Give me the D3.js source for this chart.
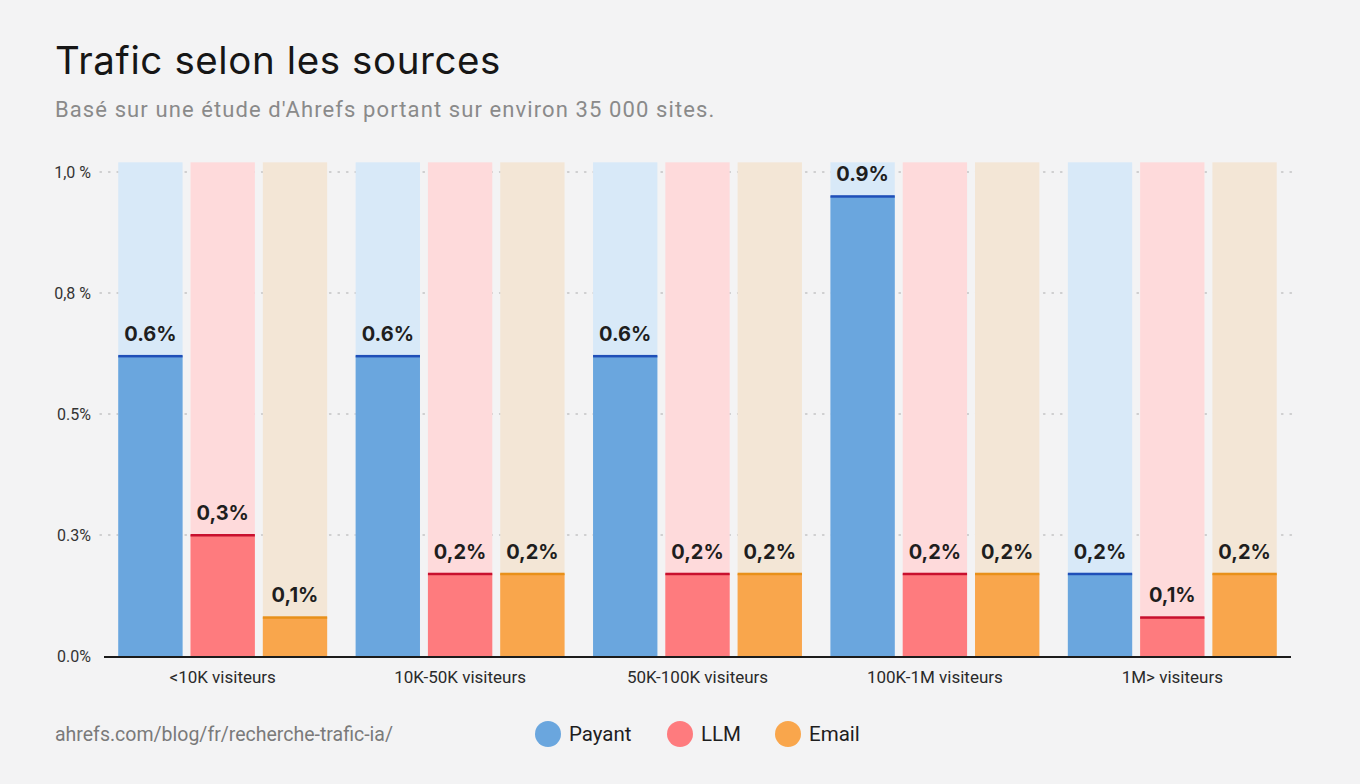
<!DOCTYPE html>
<html>
<head>
<meta charset="utf-8">
<script src="https://cdn.jsdelivr.net/npm/d3@7"></script>
<style>
  html, body { margin: 0; padding: 0; background: #f3f3f4; }
  svg { display: block; }
</style>
</head>
<body>
<div id="chart"></div>
<script>
var w = 1360,
  h = 784;

var categories = ["<10K visiteurs", "10K-50K visiteurs", "50K-100K visiteurs", "100K-1M visiteurs", "1M> visiteurs"];
var series = ["Payant", "LLM", "Email"];

// bar heights as drawn (share of the 0-1 axis)
var payant = [0.62, 0.62, 0.62, 0.95, 0.17];
var llm = [0.25, 0.17, 0.17, 0.17, 0.08];
var email = [0.08, 0.17, 0.17, 0.17, 0.17];

// labels printed on the bars
var payantLabels = ["0.6%", "0.6%", "0.6%", "0.9%", "0,2%"];
var llmLabels = ["0,3%", "0,2%", "0,2%", "0,2%", "0,1%"];
var emailLabels = ["0,1%", "0,2%", "0,2%", "0,2%", "0,2%"];

var tickValues = [0, 0.25, 0.5, 0.75, 1.0];
var tickLabels = ["0.0%", "0.3%", "0.5%", "0,8 %", "1,0 %"];

var colors = {
  Payant: { fill: "#6aa6de", bg: "#d8e9f8", line: "#1f4fb8" },
  LLM: { fill: "#fe7b7e", bg: "#fedadb", line: "#c8102e" },
  Email: { fill: "#f9a64c", bg: "#f3e6d6", line: "#e8901a" },
};

var values = { Payant: payant, LLM: llm, Email: email };
var labels = { Payant: payantLabels, LLM: llmLabels, Email: emailLabels };

var rows = [];
categories.forEach((c, i) => {
  series.forEach((s) => {
    rows.push({ cat: c, key: s, value: values[s][i], label: labels[s][i] });
  });
});

var svg = d3
  .select("#chart")
  .append("svg")
  .attr("width", w)
  .attr("height", h)
  .style("font-family", "Roboto, 'Liberation Sans', sans-serif");

svg.append("rect").attr("width", w).attr("height", h).attr("fill", "#f3f3f4");

// title
svg
  .append("text")
  .attr("x", 55)
  .attr("y", 74)
  .attr("font-family", "Inter, 'Noto Sans', sans-serif")
  .attr("font-size", 38.5)
  .attr("letter-spacing", 0.6)
  .attr("fill", "#161616")
  .text("Trafic selon les sources");

svg
  .append("text")
  .attr("x", 55)
  .attr("y", 117)
  .attr("font-size", 22)
  .attr("letter-spacing", 1.1)
  .attr("fill", "#8a8a8a")
  .text("Basé sur une étude d'Ahrefs portant sur environ 35 000 sites.");

var x0 = d3
  .scaleBand()
  .domain(categories)
  .range([104, 1291])
  .paddingInner(0.12)
  .paddingOuter(0.06);

var x1 = d3
  .scaleBand()
  .domain(series)
  .range([0, x0.bandwidth()])
  .paddingInner(0.11);

var y = d3.scaleLinear().domain([0, 1]).range([656, 172]);

// grid
var grid = svg.append("g");
tickValues.slice(1).forEach((t) => {
  grid
    .append("line")
    .attr("x1", 100)
    .attr("x2", 1295)
    .attr("y1", y(t))
    .attr("y2", y(t))
    .attr("stroke", "#c4c4c4")
    .attr("stroke-width", 1.3)
    .attr("stroke-dasharray", "1.5,7")
    .attr("stroke-linecap", "round");
});

// y labels
svg
  .append("g")
  .selectAll("text")
  .data(tickValues)
  .enter()
  .append("text")
  .attr("x", 91)
  .attr("y", (d) => y(d))
  .attr("dy", "0.35em")
  .attr("text-anchor", "end")
  .attr("font-size", 16)
  .attr("fill", "#333")
  .text((d, i) => tickLabels[i]);

var bars = svg
  .append("g")
  .selectAll("g")
  .data(rows)
  .enter()
  .append("g")
  .attr("transform", (d) => `translate(${x0(d.cat) + x1(d.key)},0)`);

// background track
bars
  .append("rect")
  .attr("y", y(1.02))
  .attr("width", x1.bandwidth())
  .attr("height", y(0) - y(1.02))
  .attr("fill", (d) => colors[d.key].bg);

// value bar
bars
  .append("rect")
  .attr("y", (d) => y(d.value))
  .attr("width", x1.bandwidth())
  .attr("height", (d) => y(0) - y(d.value))
  .attr("fill", (d) => colors[d.key].fill);

bars
  .append("rect")
  .attr("y", (d) => y(d.value) - 1)
  .attr("width", x1.bandwidth())
  .attr("height", 2.5)
  .attr("fill", (d) => colors[d.key].line);

bars
  .append("text")
  .attr("x", x1.bandwidth() / 2)
  .attr("y", (d) => y(d.value) - 15)
  .attr("text-anchor", "middle")
  .attr("font-family", "Inter, 'Noto Sans', sans-serif")
  .attr("font-weight", 700)
  .attr("font-size", 20)
  .attr("fill", "#1e1e1e")
  .text((d) => d.label);

// baseline
svg
  .append("line")
  .attr("x1", 104)
  .attr("x2", 1291)
  .attr("y1", y(0) + 1)
  .attr("y2", y(0) + 1)
  .attr("stroke", "#1b1b1b")
  .attr("stroke-width", 2);

// category labels
svg
  .append("g")
  .selectAll("text")
  .data(categories)
  .enter()
  .append("text")
  .attr("x", (d) => x0(d) + x0.bandwidth() / 2)
  .attr("y", 683)
  .attr("text-anchor", "middle")
  .attr("font-size", 17)
  .attr("fill", "#2a2a2a")
  .text((d) => d);

// footer
svg
  .append("text")
  .attr("x", 55)
  .attr("y", 741)
  .attr("font-size", 19.5)
  .attr("fill", "#7a7a7a")
  .text("ahrefs.com/blog/fr/recherche-trafic-ia/");

// legend
var legendX = [548, 680, 788];
var legend = svg
  .append("g")
  .selectAll("g")
  .data(series)
  .enter()
  .append("g")
  .attr("transform", (d, i) => `translate(${legendX[i]},734)`);

legend
  .append("circle")
  .attr("r", 13)
  .attr("fill", (d) => colors[d].fill);

legend
  .append("text")
  .attr("x", 21)
  .attr("dy", "0.35em")
  .attr("font-size", 20.5)
  .attr("fill", "#1e1e1e")
  .text((d) => d);
</script>
</body>
</html>
